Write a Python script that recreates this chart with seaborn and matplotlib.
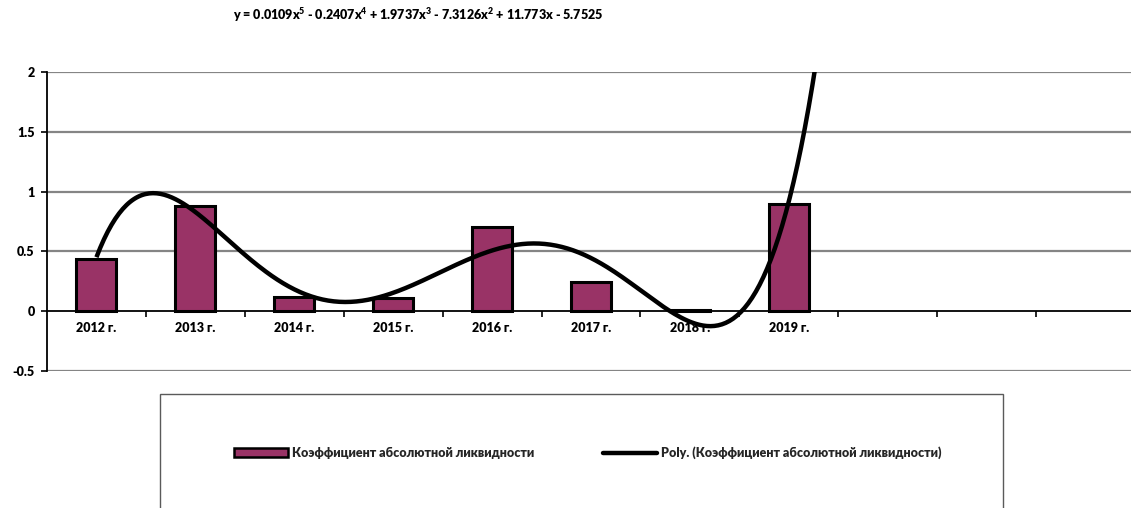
import numpy as np
import pandas as pd
import matplotlib
matplotlib.use("Agg")
import matplotlib.pyplot as plt
from matplotlib.patches import Rectangle, Patch
from matplotlib.lines import Line2D
from matplotlib.ticker import FixedLocator, MultipleLocator
import seaborn as sns

# Absolute liquidity ratio by year
years = ["2012 г.", "2013 г.", "2014 г.", "2015 г.", "2016 г.", "2017 г.", "2018 г.", "2019 г."]
ratio = [0.44, 0.88, 0.12, 0.11, 0.70, 0.24, 0.01, 0.90]

trend_degree = 5
n_slots = 11  # category slots on the x axis

series_name = "Коэффициент абсолютной ликвидности"
trend_name = "Poly. (Коэффициент абсолютной ликвидности)"
equation = "y = 0.0109x$^{5}$ - 0.2407x$^{4}$ + 1.9737x$^{3}$ - 7.3126x$^{2}$ + 11.773x - 5.7525"

sns.set_theme(style="white")
plt.rcParams["font.family"] = ["Lato", "Open Sans", "DejaVu Sans"]
plt.rcParams["font.weight"] = "heavy"
plt.rcParams["mathtext.fontset"] = "custom"
plt.rcParams["mathtext.rm"] = "Lato:heavy"
plt.rcParams["mathtext.it"] = "Lato:heavy"

W, H = 1131, 508
fig = plt.figure(figsize=(W / 100, H / 100), dpi=100)
ax = fig.add_axes([47 / W, 1 - 371 / H, (1135 - 47) / W, (371 - 72) / H])

bar_color = "#993366"
df = pd.DataFrame({"year": years, "ratio": ratio})
sns.barplot(data=df, x="year", y="ratio", color=bar_color, saturation=1,
            width=0.405, edgecolor="black", linewidth=2.2, ax=ax, zorder=3)

# Polynomial least-squares trendline over the category numbers 1..8
xk = np.arange(1, len(ratio) + 1)
coefs = np.polyfit(xk, ratio, trend_degree)
xs = np.linspace(1, 8.6, 400)
ys = np.polyval(coefs, xs)
ax.plot(xs - 1, ys, color="black", lw=3.2, zorder=4, solid_capstyle="butt")

ax.set_xlim(-0.5, n_slots - 0.5)
ax.set_ylim(-0.5, 2)
ax.set_xlabel("")
ax.set_ylabel("")

# Horizontal gridlines
ax.yaxis.set_major_locator(MultipleLocator(0.5))
for yv in [-0.5, 0.5, 1.0, 1.5, 2.0]:
    ax.axhline(yv, color="#858585", lw=1.6, zorder=1)

# Spines: left axis and category axis crossing at zero
for s in ["top", "right"]:
    ax.spines[s].set_visible(False)
ax.spines["left"].set_color("black")
ax.spines["left"].set_linewidth(1.3)
ax.spines["bottom"].set_position(("data", 0))
ax.spines["bottom"].set_color("black")
ax.spines["bottom"].set_linewidth(1.3)
ax.spines["bottom"].set_zorder(5)

ax.set_yticks([-0.5, 0, 0.5, 1, 1.5, 2])
ax.set_yticklabels(["-0.5", "0", "0.5", "1", "1.5", "2"])
ax.tick_params(axis="y", length=4, width=1.2, color="black", direction="out",
               left=True, pad=5, labelsize=9, labelcolor="black")

ax.set_xticks(range(len(years)))
ax.set_xticklabels(years)
ax.xaxis.set_minor_locator(FixedLocator(np.arange(0.5, n_slots - 0.5, 1.0)))
ax.tick_params(axis="x", which="major", length=0, pad=8, labelsize=9, labelcolor="black")
ax.tick_params(axis="x", which="minor", length=4, width=1.2, color="black",
               direction="out", bottom=True)
for lbl in ax.get_xticklabels() + ax.get_yticklabels():
    lbl.set_fontweight("heavy")

# Equation label
fig.text(418 / W, 1 - 15 / H, equation, ha="center", va="center",
         fontsize=9, fontweight="heavy", color="black")

# Legend frame
fig.patches.append(Rectangle((160 / W, -0.05), (1003 - 160) / W, 1 - 394 / H + 0.05,
                             transform=fig.transFigure, facecolor="none",
                             edgecolor="#5a5a5a", lw=1.0))
handles = [Patch(facecolor=bar_color, edgecolor="black", lw=1.8),
           Line2D([0], [0], color="black", lw=3.2)]
leg = fig.legend(handles, [series_name, trend_name], loc="center",
                 bbox_to_anchor=(588 / W, 1 - 453 / H), ncol=2, frameon=False,
                 prop={"size": 9, "weight": "heavy"}, handlelength=4.3,
                 handleheight=0.75, handletextpad=0.35, columnspacing=5.5)

fig.savefig("out.png", dpi=100, facecolor="white")
